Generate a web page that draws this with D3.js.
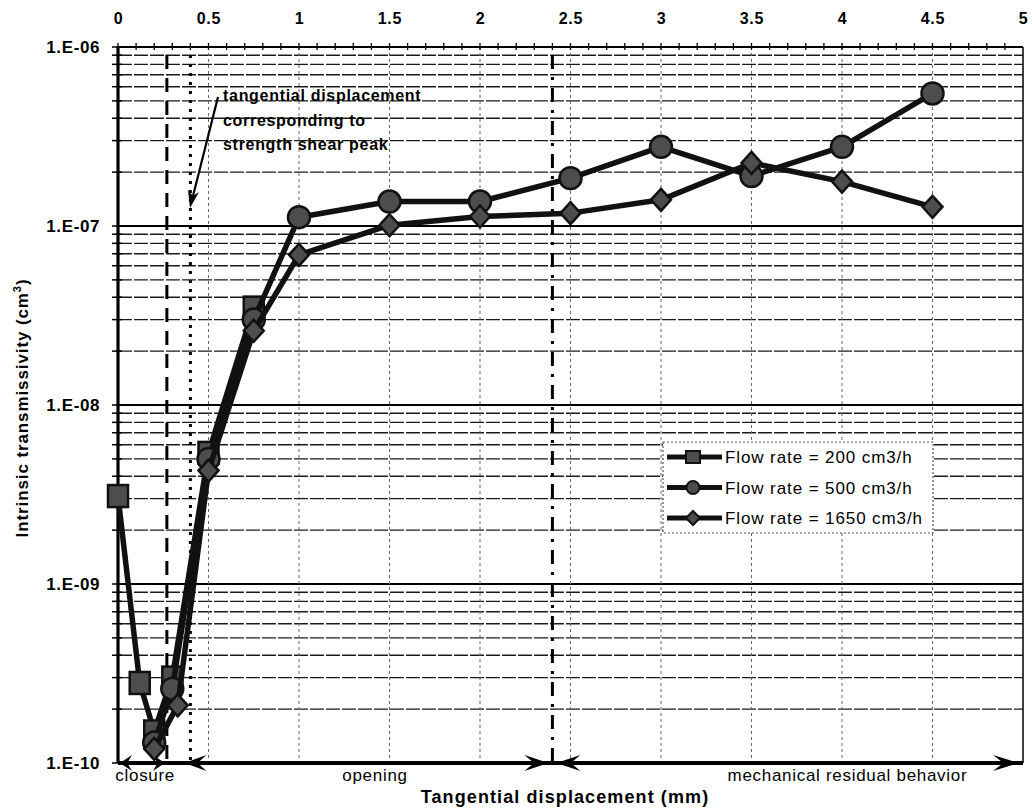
<!DOCTYPE html>
<html>
<head>
<meta charset="utf-8">
<title>Intrinsic transmissivity vs tangential displacement</title>
<style>
    body { margin: 0; background: #fff; }
    text { font-family: "Liberation Sans", Arial, sans-serif; }
</style>
</head>
<body>
<div id="chart"></div>
<script src="https://cdn.jsdelivr.net/npm/d3@7"></script>
<script>
// data
var xTicks = [0, 0.5, 1, 1.5, 2, 2.5, 3, 3.5, 4, 4.5, 5];
var yTicks = [1e-10, 1e-9, 1e-8, 1e-7, 1e-6];
var yTickLabels = ["1.E-10", "1.E-09", "1.E-08", "1.E-07", "1.E-06"];

var seriesNames = ["Flow rate = 200 cm3/h", "Flow rate = 500 cm3/h", "Flow rate = 1650 cm3/h"];

var x200 = [0, 0.12, 0.2, 0.3, 0.5, 0.75];
var t200 = [3.1e-9, 2.8e-10, 1.5e-10, 3.0e-10, 5.4e-9, 3.5e-8];

var x500 = [0.2, 0.3, 0.5, 0.75, 1, 1.5, 2, 2.5, 3, 3.5, 4, 4.5];
var t500 = [1.3e-10, 2.6e-10, 5.0e-9, 3.0e-8, 1.12e-7, 1.37e-7, 1.37e-7, 1.85e-7, 2.77e-7, 1.9e-7, 2.77e-7, 5.5e-7];

var x1650 = [0.2, 0.33, 0.5, 0.75, 1, 1.5, 2, 2.5, 3, 3.5, 4, 4.5];
var t1650 = [1.2e-10, 2.1e-10, 4.3e-9, 2.6e-8, 6.9e-8, 1.01e-7, 1.13e-7, 1.18e-7, 1.4e-7, 2.25e-7, 1.77e-7, 1.28e-7];

// vertical marker lines (mm)
var closureLimit = 0.27;
var shearPeak = 0.4;
var residualStart = 2.4;

var W = 1032, H = 809;
var svg = d3.select("#chart").append("svg")
    .attr("width", W).attr("height", H);

var x = d3.scaleLinear().domain([0, 5]).range([118, 1023]);
var y = d3.scaleLog().domain([1e-10, 1e-6]).range([763, 47]);

// minor values of every decade
var minors = [];
yTicks.slice(0, -1).forEach(function (d) {
    for (var k = 2; k <= 9; k++) minors.push(d * k);
});

// horizontal gridlines
svg.append("g").selectAll("line").data(minors).enter().append("line")
    .attr("x1", x(0)).attr("x2", x(5))
    .attr("y1", function (d) { return y(d); }).attr("y2", function (d) { return y(d); })
    .attr("stroke", "#1a1a1a").attr("stroke-width", 1.4)
    .attr("stroke-dasharray", "14,2");
svg.append("g").selectAll("line").data(yTicks).enter().append("line")
    .attr("x1", x(0)).attr("x2", x(5))
    .attr("y1", function (d) { return y(d); }).attr("y2", function (d) { return y(d); })
    .attr("stroke", "#000").attr("stroke-width", 2);

// vertical gridlines
svg.append("g").selectAll("line").data(xTicks.slice(1, -1)).enter().append("line")
    .attr("x1", function (d) { return x(d); }).attr("x2", function (d) { return x(d); })
    .attr("y1", y(1e-6)).attr("y2", y(1e-10))
    .attr("stroke", "#666").attr("stroke-width", 1)
    .attr("stroke-dasharray", "3,3");

// top axis labels
var topAxis = svg.append("g")
    .attr("transform", "translate(0," + y(1e-6) + ")")
    .call(d3.axisTop(x).tickValues(xTicks).tickSize(0).tickPadding(23)
        .tickFormat(function (d) { return String(d); }));
topAxis.select(".domain").remove();
topAxis.selectAll("text")
    .style("font-family", "Liberation Sans, Arial, sans-serif")
    .style("font-size", "16px").style("font-weight", "bold")
    .style("letter-spacing", "0.8px").attr("fill", "#000");

// top small ticks every 0.1
var topMinor = d3.range(0, 50).map(function (i) { return i / 10; });
svg.append("g").selectAll("line").data(topMinor).enter().append("line")
    .attr("x1", function (d) { return x(d); }).attr("x2", function (d) { return x(d); })
    .attr("y1", y(1e-6) - 4).attr("y2", y(1e-6) + 3)
    .attr("stroke", "#000").attr("stroke-width", 1.3);

// left axis labels
var leftAxis = svg.append("g")
    .attr("transform", "translate(" + x(0) + ",0)")
    .call(d3.axisLeft(y).tickValues(yTicks).tickSize(0).tickPadding(18)
        .tickFormat(function (d, i) { return yTickLabels[i]; }));
leftAxis.select(".domain").remove();
leftAxis.selectAll("text")
    .style("font-family", "Liberation Sans, Arial, sans-serif")
    .style("font-size", "17px").style("font-weight", "bold")
    .style("letter-spacing", "0.6px").attr("fill", "#000");

// left ticks (major and minor)
svg.append("g").selectAll("line").data(minors.concat(yTicks)).enter().append("line")
    .attr("x1", x(0) - 6).attr("x2", x(0) + 4)
    .attr("y1", function (d) { return y(d); }).attr("y2", function (d) { return y(d); })
    .attr("stroke", "#000").attr("stroke-width", 1.5);

// frame
svg.append("line").attr("x1", x(0)).attr("x2", x(5)).attr("y1", y(1e-6)).attr("y2", y(1e-6))
    .attr("stroke", "#000").attr("stroke-width", 2.2);
svg.append("line").attr("x1", x(0)).attr("x2", x(0)).attr("y1", y(1e-6)).attr("y2", y(1e-10))
    .attr("stroke", "#000").attr("stroke-width", 3.2);
svg.append("line").attr("x1", x(5)).attr("x2", x(5)).attr("y1", y(1e-6)).attr("y2", y(1e-10))
    .attr("stroke", "#000").attr("stroke-width", 1.5);

// reference verticals
function vline(v, dash) {
    svg.append("line")
        .attr("x1", x(v)).attr("x2", x(v))
        .attr("y1", y(1e-6) + 8).attr("y2", y(1e-10))
        .attr("stroke", "#000").attr("stroke-width", 3)
        .attr("stroke-dasharray", dash);
}
vline(closureLimit, "14,9");
vline(shearPeak, "3,6");
vline(residualStart, "14,8,3,8");

// bottom phase arrows on the x axis
svg.append("line").attr("x1", x(0)).attr("x2", x(5)).attr("y1", y(1e-10)).attr("y2", y(1e-10))
    .attr("stroke", "#000").attr("stroke-width", 4);

function arrowHead(px, dir, len) {
    var py = y(1e-10);
    var s = dir;
    var p = "M" + px + "," + py +
        "L" + (px - s * len) + "," + (py - 8) +
        "L" + (px - s * len * 0.6) + "," + py +
        "L" + (px - s * len) + "," + (py + 8) + "Z";
    svg.append("path").attr("d", p).attr("fill", "#000");
}
arrowHead(x(0) + 2, -1, 12);
arrowHead(x(closureLimit) - 2, 1, 12);
arrowHead(x(shearPeak) - 6, -1, 22);
arrowHead(x(residualStart) - 4, 1, 24);
arrowHead(x(residualStart) + 4, -1, 24);
arrowHead(x(5) - 4, 1, 26);

var phaseLabels = [
    { t: "closure", v: 0.15 },
    { t: "opening", v: 1.42 },
    { t: "mechanical residual behavior", v: 4.03 }
];
svg.append("g").selectAll("text").data(phaseLabels).enter().append("text")
    .attr("x", function (d) { return x(d.v); }).attr("y", 781)
    .attr("text-anchor", "middle")
    .style("font-size", "17px").style("letter-spacing", "0.7px")
    .text(function (d) { return d.t; });

// series
var series = [
    { name: seriesNames[0], xs: x200, ys: t200, shape: "square" },
    { name: seriesNames[1], xs: x500, ys: t500, shape: "circle" },
    { name: seriesNames[2], xs: x1650, ys: t1650, shape: "diamond" }
];

var line = d3.line()
    .x(function (d) { return x(d[0]); })
    .y(function (d) { return y(d[1]); });

function marker(g, shape, cx, cy) {
    if (shape === "square") {
        g.append("rect").attr("x", cx - 10).attr("y", cy - 11)
            .attr("width", 20).attr("height", 22);
    } else if (shape === "circle") {
        g.append("circle").attr("cx", cx).attr("cy", cy).attr("r", 11);
    } else {
        g.append("path").attr("d", "M" + cx + "," + (cy - 11) + "L" + (cx + 10) + "," + cy +
            "L" + cx + "," + (cy + 11) + "L" + (cx - 10) + "," + cy + "Z");
    }
}

series.forEach(function (s) {
    var pts = s.xs.map(function (v, i) { return [v, s.ys[i]]; });
    svg.append("path").datum(pts)
        .attr("d", line).attr("fill", "none")
        .attr("stroke", "#111").attr("stroke-width", 5.5)
        .attr("stroke-linejoin", "round");
    var g = svg.append("g").attr("fill", "#4d4d4d").attr("stroke", "#111").attr("stroke-width", 2.5);
    pts.forEach(function (p) { marker(g, s.shape, x(p[0]), y(p[1])); });
});

// legend
var lg = svg.append("g");
lg.append("rect").attr("x", 663).attr("y", 442).attr("width", 270).attr("height", 91)
    .attr("fill", "#fff").attr("stroke", "#555").attr("stroke-width", 1.2)
    .attr("stroke-dasharray", "2,2");
series.forEach(function (s, i) {
    var ly = 457 + i * 30.5;
    lg.append("line").attr("x1", 667).attr("x2", 722).attr("y1", ly).attr("y2", ly)
        .attr("stroke", "#111").attr("stroke-width", 5);
    var g = lg.append("g").attr("fill", "#4d4d4d").attr("stroke", "#111").attr("stroke-width", 2);
    if (s.shape === "square") {
        g.append("rect").attr("x", 686).attr("y", ly - 6).attr("width", 14).attr("height", 12);
    } else if (s.shape === "circle") {
        g.append("circle").attr("cx", 693).attr("cy", ly).attr("r", 6.5);
    } else {
        g.append("path").attr("d", "M693," + (ly - 7) + "L700," + ly + "L693," + (ly + 7) + "L686," + ly + "Z");
    }
    lg.append("text").attr("x", 725).attr("y", ly + 6)
        .style("font-size", "17px").style("letter-spacing", "0.9px")
        .text(s.name);
});

// annotation
var ann = svg.append("text").attr("x", 223).attr("y", 101)
    .style("font-size", "16px").style("font-weight", "bold").style("letter-spacing", "0.7px");
["tangential displacement", "corresponding to", "strength shear peak"].forEach(function (t, i) {
    ann.append("tspan").attr("x", 223).attr("y", 101 + i * 24.5).text(t);
});
svg.append("line").attr("x1", 218).attr("y1", 97).attr("x2", 193).attr("y2", 196)
    .attr("stroke", "#000").attr("stroke-width", 2.2);
svg.append("path").attr("d", "M190,208 L188,190 L193,196 L199,192 Z").attr("fill", "#000");

// axis titles
svg.append("text").attr("x", 565).attr("y", 803)
    .attr("text-anchor", "middle")
    .style("font-size", "18px").style("font-weight", "bold").style("letter-spacing", "1.1px")
    .text("Tangential displacement (mm)");

var yt = svg.append("text")
    .attr("transform", "translate(28,408) rotate(-90)")
    .attr("text-anchor", "middle")
    .style("font-size", "17px").style("font-weight", "bold").style("letter-spacing", "0.9px");
yt.append("tspan").text("Intrinsic transmissivity (cm");
yt.append("tspan").attr("dy", -7).style("font-size", "11px").text("3");
yt.append("tspan").attr("dy", 7).text(")");
</script>
</body>
</html>
